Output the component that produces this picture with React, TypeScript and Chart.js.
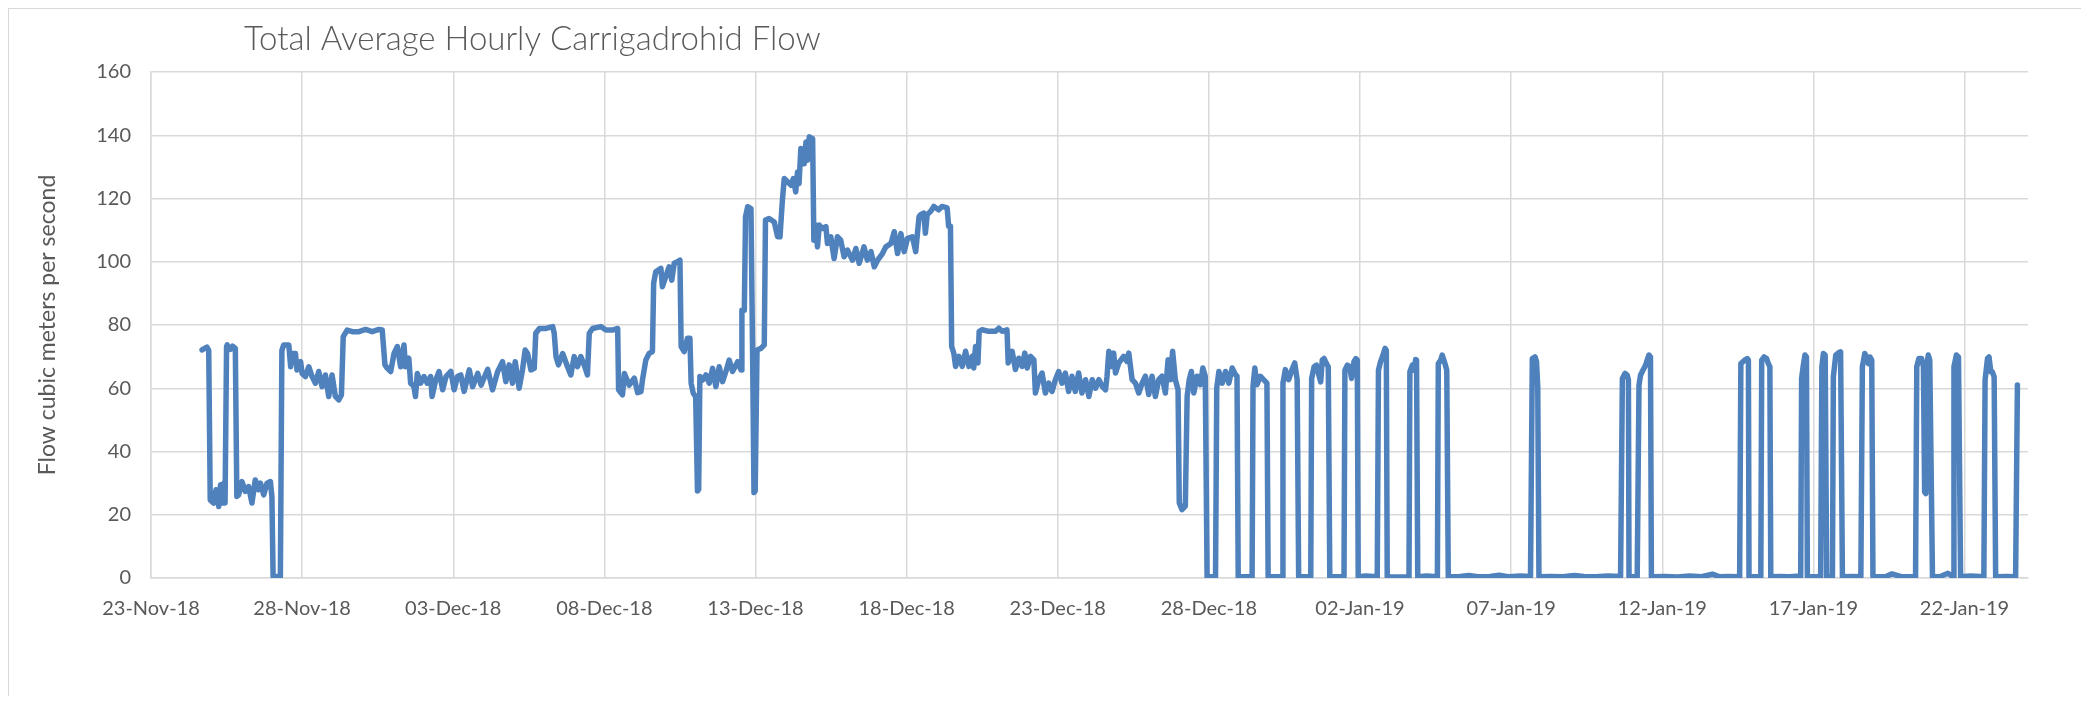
import React, { useEffect, useRef } from "react";
import { Chart, registerables } from "chart.js";

Chart.register(...registerables);

// Day offsets from 23-Nov-18 00:00 and hourly-average flow (m³/s).
const flowLateNov: [number, number][] = [
  [1.69, 72.1], [1.85, 73], [1.91, 72], [1.96, 24.7], [2.07, 23.7], [2.15, 27.9], [2.24, 22.6], [2.3, 29.5],
  [2.35, 23.7], [2.41, 30], [2.45, 23.7], [2.5, 73.2], [2.52, 73.7], [2.63, 72.3], [2.7, 73.3], [2.79, 72.6],
  [2.84, 25.8], [2.9, 26.3], [3.01, 30.5], [3.12, 27.4], [3.23, 28.9], [3.34, 23.7], [3.45, 31], [3.56, 27.9],
  [3.62, 30], [3.73, 26.3], [3.84, 30], [3.95, 30.5], [4.0, 25.8], [4.04, 0.5], [4.28, 0.5], [4.33, 72],
  [4.39, 73.7], [4.56, 73.7], [4.62, 66.8], [4.67, 71], [4.78, 71], [4.83, 65.8], [4.95, 68.4], [5.0, 64.7],
  [5.11, 63.7], [5.22, 66.8], [5.33, 63.7], [5.44, 61.6], [5.55, 65.3], [5.66, 60.5], [5.77, 64.2], [5.88, 57.4],
  [5.99, 64.2], [6.1, 57.4], [6.21, 56.3], [6.3, 57.9], [6.36, 76.3], [6.49, 78.4], [6.66, 77.9], [6.88, 77.9],
  [7.1, 78.6], [7.32, 77.9], [7.54, 78.6], [7.65, 78.4], [7.74, 67.4], [7.82, 66.3], [7.93, 65.3], [8.04, 71],
  [8.15, 73.2], [8.26, 66.8], [8.37, 73.7], [8.42, 66.8], [8.53, 69.5], [8.59, 61.6], [8.7, 60.5], [8.75, 57.4],
  [8.81, 64.7], [8.92, 61.6], [9.03, 63.7], [9.14, 61.6], [9.25, 63.7], [9.3, 57.4], [9.42, 62.6], [9.53, 65.3],
];

const flowEarlyDec: [number, number][] = [
  [9.65, 59.5], [9.76, 63.7], [9.92, 65.3], [10.03, 59.5], [10.14, 63.7], [10.25, 64.2], [10.36, 59], [10.53, 65.8],
  [10.64, 60.5], [10.81, 64.7], [10.92, 61], [11.14, 66], [11.3, 59.5], [11.47, 65.3], [11.63, 68.4], [11.74, 62.1],
  [11.85, 67.4], [11.96, 61.6], [12.05, 68.4], [12.18, 60], [12.29, 65.8], [12.38, 72.1], [12.46, 71], [12.57, 65.8],
  [12.68, 66.3], [12.73, 77.4], [12.85, 78.9], [13.07, 78.9], [13.29, 79.5], [13.34, 77.4], [13.4, 70], [13.48, 67.4],
  [13.62, 71], [13.78, 66.8], [13.89, 64.2], [14.0, 70], [14.11, 66.8], [14.22, 70], [14.33, 67.4], [14.44, 64.2],
  [14.5, 77.4], [14.61, 78.9], [14.88, 79.5], [15.05, 78.4], [15.27, 78.4], [15.44, 78.9], [15.47, 59.5], [15.6, 57.9],
  [15.66, 64.7], [15.82, 61], [15.99, 63.2], [16.1, 58.6], [16.21, 58.9], [16.26, 62.6], [16.37, 68.9], [16.48, 71],
  [16.59, 71.6], [16.63, 93.2], [16.7, 96.8], [16.87, 97.9], [16.92, 92.1], [17.03, 95.3], [17.14, 98.4], [17.23, 94.2],
  [17.31, 99.5], [17.42, 100], [17.5, 100.5], [17.54, 73.2], [17.64, 71.6], [17.75, 75.8], [17.83, 75.8], [17.87, 61.6],
  [17.94, 58.4], [18.02, 57.4], [18.08, 27.5], [18.12, 28], [18.16, 63.7], [18.25, 62.6], [18.36, 64.2], [18.47, 61.6],
  [18.58, 66.3], [18.69, 60.5], [18.8, 66.8], [18.91, 62.1], [19.02, 65.3], [19.13, 68.9], [19.24, 65.3], [19.41, 68.4],
  [19.52, 65.8], [19.55, 84.7], [19.63, 84.7], [19.67, 114.2], [19.74, 117.4], [19.85, 116.8], [19.9, 74.5], [19.95, 27],
  [19.99, 27.5], [20.05, 72.1],
];

const flowMidDec: [number, number][] = [
  [20.18, 72.6], [20.29, 73.7], [20.33, 113.2], [20.45, 113.7], [20.62, 112.6], [20.73, 107.9], [20.81, 107.9], [20.89, 119.5],
  [20.95, 126.3], [21.06, 125.3], [21.17, 124.2], [21.25, 126.3], [21.33, 122.1], [21.39, 128.4], [21.44, 124.7], [21.5, 135.8],
  [21.61, 131], [21.67, 137.9], [21.72, 132.1], [21.78, 139.5], [21.89, 138.9], [21.93, 106.8], [22.0, 111.6], [22.05, 104.7],
  [22.11, 111.6], [22.22, 110.5], [22.33, 111.1], [22.38, 105.8], [22.49, 107.9], [22.6, 101], [22.71, 107.9], [22.82, 106.8],
  [22.93, 101.6], [23.04, 103.7], [23.21, 100.5], [23.32, 104.2], [23.43, 99.5], [23.59, 104.7], [23.7, 100.5], [23.82, 103.2],
  [23.93, 98.4], [24.04, 100.5], [24.2, 102.6], [24.31, 104.7], [24.48, 105.8], [24.59, 109.5], [24.7, 102.6], [24.81, 108.9],
  [24.92, 103.2], [25.03, 107.4], [25.19, 107.9], [25.3, 103.2], [25.41, 114.2], [25.46, 114.9], [25.57, 115.4], [25.62, 109],
  [25.68, 114.9], [25.79, 115.9], [25.9, 117.5], [26.06, 116.4], [26.17, 117.5], [26.34, 117], [26.39, 111.2], [26.45, 111.2],
  [26.49, 73.2], [26.56, 71.1], [26.62, 66.9], [26.73, 70.1], [26.84, 66.9], [26.95, 71.7], [27.06, 66.9], [27.17, 70.1],
  [27.22, 66.4], [27.28, 73.2], [27.36, 68], [27.4, 78], [27.5, 78.5], [27.72, 78], [27.94, 78], [28.05, 79],
  [28.16, 78], [28.32, 78.5], [28.36, 68], [28.49, 71.7], [28.6, 65.9], [28.71, 69.5], [28.82, 66.9], [28.91, 71.1],
  [28.99, 66.4], [29.1, 70.1], [29.21, 69], [29.26, 58.5], [29.37, 62.7], [29.48, 64.8], [29.59, 58.5], [29.7, 61.6],
  [29.81, 59], [29.92, 62.7],
];

const flowLateDec: [number, number][] = [
  [30.03, 65.3], [30.14, 61.6], [30.25, 64.8], [30.36, 59], [30.47, 63.8], [30.58, 59], [30.69, 64.8], [30.8, 58.5],
  [30.92, 62.7], [31.03, 57.4], [31.14, 62.7], [31.25, 60], [31.36, 62.7], [31.47, 60.6], [31.58, 59.5], [31.63, 63.8],
  [31.69, 71.7], [31.78, 66.9], [31.85, 71.1], [31.91, 64.8], [32.02, 68], [32.18, 70.1], [32.29, 68.5], [32.35, 71.1],
  [32.46, 62.7], [32.57, 61.6], [32.68, 58.5], [32.79, 61.6], [32.9, 63.8], [33.01, 58], [33.12, 63.8], [33.23, 57.4],
  [33.34, 62.7], [33.45, 63.8], [33.56, 58.5], [33.65, 69], [33.73, 62.7], [33.8, 71.7], [33.89, 62.7], [33.98, 59.5],
  [34.02, 23.7], [34.11, 21.6], [34.22, 22.7], [34.28, 57.4], [34.35, 62.7], [34.42, 65.3], [34.5, 58.5], [34.61, 63.8],
  [34.72, 61.1], [34.8, 66.4], [34.88, 63.8], [34.94, 0.4], [35.22, 0.4], [35.26, 60.1], [35.33, 65.3], [35.44, 61.6],
  [35.55, 65.3], [35.66, 61.6], [35.77, 66.4], [35.88, 64.3], [35.93, 63.8], [35.97, 0.4], [36.43, 0.4], [36.46, 60.6],
  [36.52, 66.4], [36.59, 61.1], [36.7, 63.8], [36.81, 62.7], [36.92, 61.6], [36.96, 0.4], [37.42, 0.4], [37.45, 61.6],
  [37.53, 65.9], [37.64, 62.7], [37.75, 65.9], [37.84, 68], [37.92, 62.7], [37.97, 0.4], [38.37, 0.4], [38.4, 63.1],
  [38.48, 66.8], [38.56, 67.3], [38.64, 64.1], [38.7, 62], [38.75, 68.9], [38.81, 69.4], [38.89, 67.8], [38.95, 66.8],
  [39.0, 0.4], [39.47, 0.4], [39.5, 65.7], [39.58, 67.3], [39.66, 66.8], [39.72, 63.1], [39.8, 68.4], [39.86, 69.4],
  [39.91, 68.9], [39.94, 0.4],
];

const flowEarlyJan: [number, number][] = [
  [40.2, 0.6], [40.57, 0.4], [40.61, 65.7], [40.68, 68.4], [40.76, 70.5], [40.83, 72.6], [40.87, 72], [40.9, 0.4],
  [41.2, 0.3], [41.62, 0.4], [41.65, 65.2], [41.73, 67.3], [41.79, 65.7], [41.84, 69.1], [41.87, 68.9], [41.91, 0.4],
  [42.2, 0.6], [42.56, 0.4], [42.59, 67.8], [42.67, 68.9], [42.72, 70.5], [42.81, 67.8], [42.87, 65.7], [42.92, 0.4],
  [43.3, 0.5], [43.6, 0.8], [43.9, 0.4], [44.3, 0.5], [44.6, 0.9], [44.9, 0.4], [45.3, 0.6], [45.64, 0.5],
  [45.7, 69.4], [45.79, 69.9], [45.84, 68.4], [45.88, 60.4], [45.92, 0.4], [46.3, 0.5], [46.7, 0.4], [47.1, 0.8],
  [47.4, 0.5], [47.8, 0.4], [48.2, 0.6], [48.62, 0.5], [48.68, 63.1], [48.77, 64.7], [48.84, 64.1], [48.88, 62.6],
  [48.9, 0.4], [49.17, 0.4], [49.23, 61], [49.28, 64.1], [49.36, 65.7], [49.45, 67.3], [49.5, 68.9], [49.56, 70.5],
  [49.61, 69.9], [49.64, 0.4],
];

const flowMidJan: [number, number][] = [
  [50.1, 0.5], [50.5, 0.3], [50.9, 0.6], [51.3, 0.4], [51.66, 1.2], [51.9, 0.4], [52.2, 0.5], [52.56, 0.4],
  [52.6, 67.8], [52.67, 68.4], [52.76, 69.1], [52.81, 69.4], [52.85, 68.9], [52.87, 0.4], [53.26, 0.4], [53.29, 68.9],
  [53.37, 69.9], [53.45, 69.4], [53.51, 67.8], [53.56, 66.8], [53.59, 0.4], [53.9, 0.5], [54.2, 0.4], [54.58, 0.6],
  [54.61, 63.1], [54.66, 66.8], [54.72, 70.5], [54.77, 69.9], [54.8, 0.4], [55.24, 0.4], [55.28, 66.8], [55.33, 71],
  [55.39, 70.5], [55.44, 0.4], [55.63, 0.4], [55.66, 63.6], [55.74, 70.5], [55.83, 71.2], [55.9, 71.5], [55.96, 0.4],
  [56.3, 0.5], [56.57, 0.4], [56.62, 66.8], [56.7, 71], [56.76, 69.9], [56.82, 67.8], [56.87, 69.9], [56.93, 68.9],
  [56.97, 0.4], [57.4, 0.5], [57.6, 1.3], [57.9, 0.4], [58.38, 0.4], [58.42, 66.8], [58.49, 69.4], [58.58, 69.4],
  [58.64, 66.8], [58.68, 27.2], [58.72, 26.7], [58.75, 66.8], [58.8, 70.5], [58.85, 68.9], [58.94, 0.4], [59.2, 0.5],
  [59.45, 1.5], [59.62, 0.4], [59.65, 66.8], [59.73, 70.5], [59.8, 69.9], [59.87, 0.4], [60.2, 0.6], [60.64, 0.4],
  [60.68, 62.6], [60.76, 69.4], [60.81, 69.9], [60.87, 65.2], [60.92, 65.2], [60.98, 63.6], [61.03, 0.4], [61.4, 0.5],
  [61.69, 0.4], [61.75, 61],
];

const xTickDays = [0, 5, 10, 15, 20, 25, 30, 35, 40, 45, 50, 55, 60];
const xTickLabels = [
  "23-Nov-18", "28-Nov-18", "03-Dec-18", "08-Dec-18", "13-Dec-18", "18-Dec-18", "23-Dec-18",
  "28-Dec-18", "02-Jan-19", "07-Jan-19", "12-Jan-19", "17-Jan-19", "22-Jan-19",
];
const chartTitle = "Total Average Hourly Carrigadrohid Flow";
const yAxisTitle = "Flow cubic meters per second";

const TEXT = "#595959";
const GRID = "#d9d9d9";
const FONT = "Lato, 'Open Sans', sans-serif";

export default function App() {
  const ref = useRef<HTMLCanvasElement>(null);

  useEffect(() => {
    const canvas = ref.current;
    if (!canvas) return;
    const points = [
      ...flowLateNov, ...flowEarlyDec, ...flowMidDec, ...flowLateDec, ...flowEarlyJan, ...flowMidJan,
    ].map(([d, f]) => ({ x: d, y: f }));

    const titlePlugin = {
      id: "excelTitle",
      afterDraw(chart: any) {
        const ctx = chart.ctx as CanvasRenderingContext2D;
        ctx.save();
        let size = 34;
        ctx.font = `300 ${size}px ${FONT}`;
        const w = ctx.measureText(chartTitle).width;
        size = (size * 577) / w;
        ctx.font = `300 ${size}px ${FONT}`;
        ctx.fillStyle = TEXT;
        ctx.textBaseline = "alphabetic";
        ctx.textAlign = "left";
        ctx.fillText(chartTitle, 235, 41);
        ctx.restore();
      },
    };

    const chart = new Chart(canvas, {
      type: "line",
      data: {
        datasets: [
          {
            data: points,
            borderColor: "#4f81bd",
            borderWidth: 5.5,
            pointRadius: 0,
            tension: 0,
            fill: false,
            borderJoinStyle: "round",
            borderCapStyle: "round",
          },
        ],
      },
      options: {
        responsive: false,
        animation: false,
        events: [],
        layout: { padding: { left: 0, right: 57, top: 63, bottom: 0 } },
        plugins: { legend: { display: false }, tooltip: { enabled: false }, title: { display: false } },
        scales: {
          x: {
            type: "linear",
            min: 0,
            max: 62.1,
            afterBuildTicks: (s: any) => {
              s.ticks = xTickDays.map((v) => ({ value: v }));
            },
            afterFit: (s: any) => {
              s.height = 118;
            },
            ticks: {
              callback: (_v: any, i: number) => xTickLabels[i],
              autoSkip: false,
              maxRotation: 0,
              minRotation: 0,
              padding: 19,
              color: TEXT,
              font: { family: FONT, size: 20 },
            },
            grid: { color: GRID, lineWidth: 1.5, drawTicks: false },
            border: { color: GRID, width: 1.5 },
          },
          y: {
            min: 0,
            max: 160,
            afterFit: (s: any) => {
              s.width = 142;
            },
            ticks: { stepSize: 20, padding: 20, color: TEXT, font: { family: FONT, size: 20 } },
            title: {
              display: true,
              text: yAxisTitle,
              color: TEXT,
              font: { family: FONT, size: 23 },
              padding: { top: 25, bottom: 0 },
            },
            grid: { color: GRID, lineWidth: 1.5, drawTicks: false },
            border: { color: GRID, width: 1.5 },
          },
        },
      },
      plugins: [titlePlugin],
    } as any);

    return () => chart.destroy();
  }, []);

  return (
    <div
      style={{
        position: "relative",
        width: 2078,
        height: 688,
        boxSizing: "border-box",
        borderTop: `1px solid ${GRID}`,
        borderLeft: `1px solid ${GRID}`,
        borderRight: `1px solid ${GRID}`,
        background: "#fff",
      }}
    >
      <canvas ref={ref} width={2076} height={687} style={{ display: "block", width: 2076, height: 687 }} />
    </div>
  );
}
